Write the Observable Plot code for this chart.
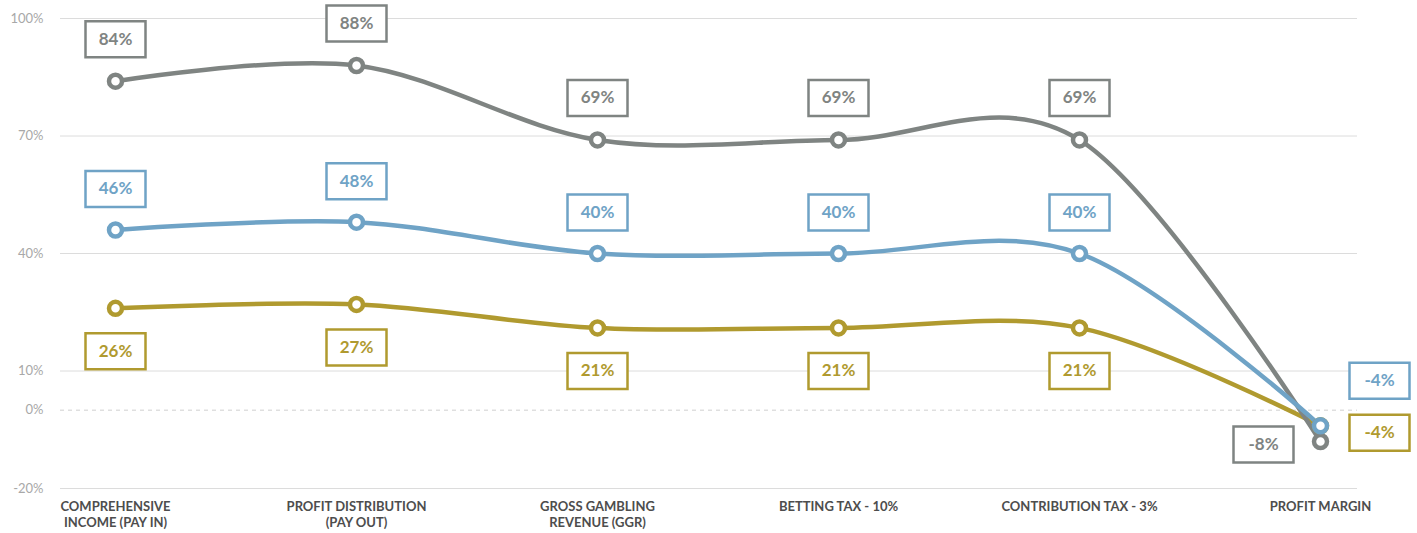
<!DOCTYPE html>
<html>
<head>
<meta charset="utf-8">
<script src="https://cdn.jsdelivr.net/npm/d3@7"></script>
<script src="https://cdn.jsdelivr.net/npm/@observablehq/plot@0.6"></script>
<style>
  html, body { margin: 0; padding: 0; background: #fff; }
</style>
</head>
<body>
<div id="chart"></div>
<script>
const categories = [
  "COMPREHENSIVE\nINCOME (PAY IN)",
  "PROFIT DISTRIBUTION\n(PAY OUT)",
  "GROSS GAMBLING\nREVENUE (GGR)",
  "BETTING TAX - 10%",
  "CONTRIBUTION TAX - 3%",
  "PROFIT MARGIN"
];
const seriesNames = ["gold", "grey", "blue"];
const greyValues = [84, 88, 69, 69, 69, -8];
const blueValues = [46, 48, 40, 40, 40, -4];
const goldValues = [26, 27, 21, 21, 21, -4];
const yTicks = [-20, 0, 10, 40, 70, 100];

const colors = { grey: "#7f8482", blue: "#6fa3c6", gold: "#b09a2f" };
const valuesBy = { grey: greyValues, blue: blueValues, gold: goldValues };

const rows = seriesNames.flatMap(s =>
  valuesBy[s].map((v, i) => ({ series: s, cat: categories[i], value: v, i }))
);

const boxSymbol = {
  draw(ctx) { ctx.rect(-30, -18, 60, 36); }
};

function labels(data, dx, dy) {
  return [
    Plot.dot(data, {
      x: "cat", y: "value", dx, dy, symbol: boxSymbol,
      fill: "white", stroke: d => colors[d.series], strokeWidth: 2.5
    }),
    Plot.text(data, {
      x: "cat", y: "value", dx, dy, text: d => d.value + "%",
      fill: d => colors[d.series], fontSize: 17, fontWeight: "bold"
    })
  ];
}

const last = categories.length - 1;
const pick = (s, f) => rows.filter(d => d.series === s && f(d));

const chart = Plot.plot({
  width: 1417,
  height: 533,
  marginLeft: 60,
  marginRight: 60,
  marginTop: 18,
  marginBottom: 45,
  style: { fontFamily: "Lato, 'Open Sans', sans-serif", background: "#fff" },
  x: { type: "point", domain: categories, padding: 0.182, align: 0.6 },
  y: { domain: [-20, 100] },
  marks: [
    Plot.ruleY(yTicks.filter(d => d !== 0), { stroke: "#dcdcdc", strokeWidth: 1 }),
    Plot.ruleY([0], { stroke: "#cfcfcf", strokeDasharray: "4,4" }),
    Plot.axisY({
      ticks: yTicks, tickFormat: d => d + "%", tickSize: 0, tickPadding: 17,
      fontSize: 13, color: "#a8a8a8", label: null
    }),
    Plot.axisX({
      tickSize: 0, tickPadding: 10, fontSize: 13, fontWeight: "bold",
      color: "#4d4d4d", lineHeight: 1.3, label: null
    }),
    ...seriesNames.map(s => Plot.line(rows.filter(d => d.series === s), {
      x: "cat", y: "value", stroke: colors[s], strokeWidth: 4.5, curve: "cardinal"
    })),
    ...seriesNames.map(s => Plot.dot(rows.filter(d => d.series === s), {
      x: "cat", y: "value", r: 6.5, fill: "white", stroke: colors[s], strokeWidth: 4.5
    })),
    ...labels(pick("grey", d => d.i < last), 0, -42),
    ...labels(pick("blue", d => d.i < last), 0, -41),
    ...labels(pick("gold", d => d.i < last), 0, 43),
    ...labels(pick("grey", d => d.i === last), -57, 3),
    ...labels(pick("blue", d => d.i === last), 59, -45),
    ...labels(pick("gold", d => d.i === last), 59, 7)
  ]
});

document.getElementById("chart").appendChild(chart);
</script>
</body>
</html>
